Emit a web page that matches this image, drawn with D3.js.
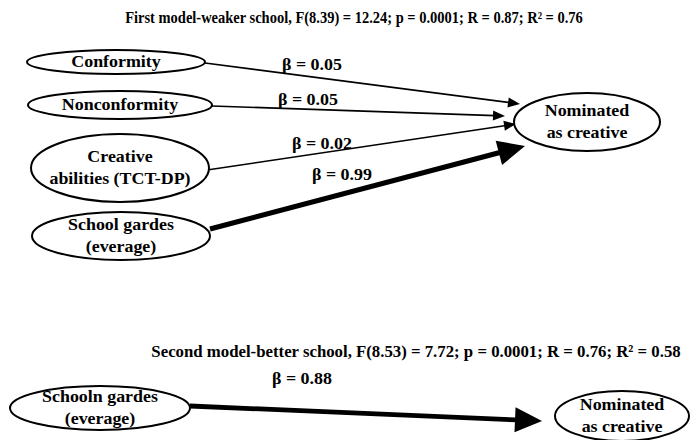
<!DOCTYPE html>
<html>
<head>
<meta charset="utf-8">
<script src="https://cdn.jsdelivr.net/npm/d3@7"></script>
<style>
  html, body { margin: 0; padding: 0; background: #fff; }
</style>
</head>
<body>
<svg id="chart" width="693" height="440"></svg>
<script>
// ---- data ----
const titles = [
  "First model-weaker school, F(8.39) = 12.24; p = 0.0001; R = 0.87; R² = 0.76",
  "Second model-better school, F(8.53) = 7.72; p = 0.0001; R = 0.76; R² = 0.58"
];
const predictors1 = [["Conformity"], ["Nonconformity"], ["Creative", "abilities (TCT-DP)"], ["School gardes", "(everage)"]];
const betas1 = [0.05, 0.05, 0.02, 0.99];
const predictors2 = [["Schooln gardes", "(everage)"]];
const betas2 = [0.88];
const outcomeLabel = ["Nominated", "as creative"];

// ---- layout (positions kept apart from data) ----
const FONT = "Liberation Serif";
const titlePos = [{x: 354, y: 23, w: 458, fs: 16}, {x: 416, y: 357, w: 530, fs: 17}];
const layout1 = [
  {cx: 116, cy: 62,  rx: 89, ry: 12, from: [205, 63],  to: [520, 104], lab: [282, 70]},
  {cx: 120, cy: 105, rx: 92, ry: 14, from: [212, 106], to: [505, 116], lab: [278, 105]},
  {cx: 120, cy: 168, rx: 89, ry: 34, from: [207, 170], to: [516, 124], lab: [292, 149]},
  {cx: 121, cy: 236, rx: 89, ry: 24, from: [210, 229], to: [525, 146], lab: [312, 180]}
];
const outcome1 = {cx: 587, cy: 122, rx: 73, ry: 29};
const layout2 = [
  {cx: 100, cy: 408, rx: 90, ry: 22, from: [190, 406], to: [542, 421], lab: [272, 384]}
];
const outcome2 = {cx: 622, cy: 416, rx: 67, ry: 25};

const svg = d3.select("#chart");
const FS = 16, SX = 1.12, LH = 22;

// stroke width & arrowhead size scale with beta
const widthScale = d3.scaleLinear().domain([0, 1]).range([1.5, 5.2]);
const headLen = d3.scaleThreshold().domain([0.5]).range([12, 27]);
const headHalf = d3.scaleThreshold().domain([0.5]).range([5, 12.5]);

function stretchedText(g, str, x, y, anchor) {
  g.append("text")
    .attr("transform", `translate(${x},${y}) scale(${SX},1)`)
    .attr("text-anchor", anchor || "middle")
    .attr("font-family", FONT)
    .attr("font-weight", "bold")
    .attr("font-size", FS)
    .attr("fill", "#000")
    .text(str);
}

function drawEllipse(lines, e) {
  const g = svg.append("g");
  g.append("ellipse")
    .attr("cx", e.cx).attr("cy", e.cy).attr("rx", e.rx).attr("ry", e.ry)
    .attr("fill", "#fff").attr("stroke", "#000").attr("stroke-width", 2);
  const n = lines.length;
  lines.forEach((s, i) => {
    const y = e.cy + 5 + (i - (n - 1) / 2) * LH;
    stretchedText(g, s, e.cx, y);
  });
}

function drawArrow(beta, p) {
  const [x1, y1] = p.from, [x2, y2] = p.to;
  const dx = x2 - x1, dy = y2 - y1, L = Math.hypot(dx, dy);
  const ux = dx / L, uy = dy / L, nx = -uy, ny = ux;
  const hl = headLen(beta), hw = headHalf(beta);
  const bx = x2 - ux * hl, by = y2 - uy * hl;
  svg.append("line")
    .attr("x1", x1).attr("y1", y1).attr("x2", bx + ux * 2).attr("y2", by + uy * 2)
    .attr("stroke", "#000").attr("stroke-width", widthScale(beta));
  svg.append("path")
    .attr("d", d3.line()([[x2, y2], [bx + nx * hw, by + ny * hw], [bx - nx * hw, by - ny * hw]]) + "Z")
    .attr("fill", "#000");
  const g = svg.append("g");
  stretchedText(g, "β = " + d3.format(".2f")(beta), p.lab[0], p.lab[1], "start");
}

// titles: scaled horizontally to the measured target width
titles.forEach((t, i) => {
  const tp = titlePos[i];
  const txt = svg.append("text")
    .attr("text-anchor", "middle")
    .attr("font-family", FONT)
    .attr("font-weight", "bold")
    .attr("font-size", tp.fs)
    .attr("fill", "#000")
    .text(t);
  const natural = txt.node().getComputedTextLength();
  txt.attr("transform", `translate(${tp.x},${tp.y}) scale(${tp.w / natural},1)`);
});

// model 1
betas1.forEach((b, i) => drawArrow(b, layout1[i]));
predictors1.forEach((p, i) => drawEllipse(p, layout1[i]));
drawEllipse(outcomeLabel, outcome1);

// model 2
betas2.forEach((b, i) => drawArrow(b, layout2[i]));
predictors2.forEach((p, i) => drawEllipse(p, layout2[i]));
drawEllipse(outcomeLabel, outcome2);
</script>
</body>
</html>
